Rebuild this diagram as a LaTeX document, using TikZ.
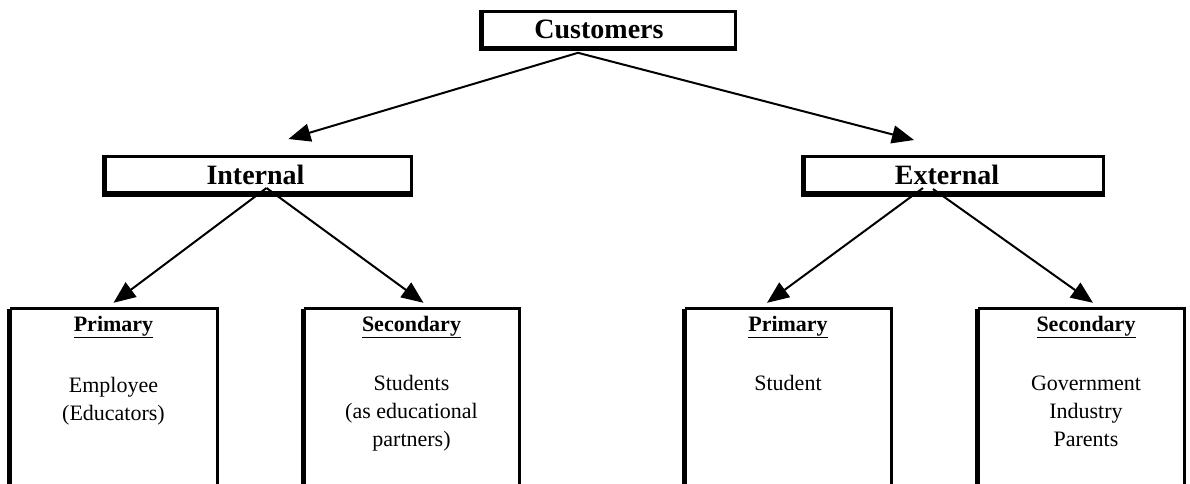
\documentclass[tikz,border=0pt]{standalone}
\usepackage{fontspec}
\setmainfont{Liberation Serif}
\usetikzlibrary{arrows.meta}
\newcommand{\boxlines}[1]{\begin{tabular}[t]{@{}c@{}}#1\end{tabular}}
\newcommand{\padright}[1]{\hbox to #1{}}
\begin{document}
\begin{tikzpicture}[x=1pt,y=-1pt,
  topbox/.style={draw,line width=3pt,inner sep=0pt,minimum height=36pt,
    font=\fontsize{28}{34}\selectfont\bfseries},
  openbox/.style={draw=none,inner sep=0pt,minimum height=200pt},
  shadowline/.style={line width=5pt},
  edgeline/.style={line width=3pt},
  head/.style={inner sep=0pt,anchor=base,font=\fontsize{22}{28}\selectfont\bfseries},
  body/.style={inner sep=0pt,anchor=base,font=\fontsize{22}{28}\selectfont},
  arr/.style={line width=2pt,-{Triangle[length=22pt,width=18pt]}}]
\useasboundingbox (0,0) rectangle (1190,483);

% top level
\node[topbox,minimum width=253pt] (cust) at (609,29.3) {Customers\padright{20pt}};
\draw[shadowline] (cust.north west) -- (cust.south west) -- (cust.south east);

% second level
\node[topbox,minimum width=306pt] (int) at (258.5,174.5) {Internal\padright{6pt}};
\draw[shadowline] (int.north west) -- (int.south west) -- (int.south east);
\node[topbox,minimum width=299pt] (ext) at (954,174.5) {External\padright{14pt}};
\draw[shadowline] (ext.north west) -- (ext.south west) -- (ext.south east);

% bottom level (open boxes)
\node[openbox,minimum width=207pt] (p1) at (113.5,409) {};
\node[openbox,minimum width=215pt] (p2) at (411.5,409) {};
\node[openbox,minimum width=206pt] (p3) at (788,409) {};
\node[openbox,minimum width=206pt] (p4) at (1081,409) {};
\foreach \b in {p1,p2,p3,p4}{
  \draw[edgeline] (\b.north west) -- (\b.north east) -- (\b.south east);
  \draw[shadowline] (\b.south west) -- (\b.north west);
}

% texts in bottom boxes
\node[head] (p1h) at (113.5,331) {\underline{Primary}};
\node[body] (p1t) at (113.5,392) {\boxlines{Employee\\(Educators)}};
\node[head] (p2h) at (411.5,331) {\underline{Secondary}};
\node[body] (p2t) at (411.5,390) {\boxlines{Students\\(as educational\\partners)}};
\node[head] (p3h) at (788,331) {\underline{Primary}};
\node[body] (p3t) at (788,390) {\boxlines{Student}};
\node[head] (p4h) at (1086,331) {\underline{Secondary}};
\node[body] (p4t) at (1086,390) {\boxlines{Government\\Industry\\Parents}};

% connectors
\coordinate (custapex) at ([xshift=-31pt,yshift=-4pt]cust.south);
\draw[arr] (custapex) -- ([xshift=30pt,yshift=16pt]int.north);
\draw[arr] (custapex) -- ([xshift=-40pt,yshift=15pt]ext.north);
\draw[arr] ([xshift=8pt,yshift=6pt]int.south) -- ([yshift=6pt]p1.north);
\draw[arr] ([xshift=8pt,yshift=6pt]int.south) -- ([xshift=12pt,yshift=6pt]p2.north);
\draw[arr] ([xshift=-31pt,yshift=6pt]ext.south) -- ([xshift=-21pt,yshift=6pt]p3.north);
\draw[arr] ([xshift=-21pt,yshift=5pt]ext.south) -- ([xshift=12pt,yshift=6pt]p4.north);
\end{tikzpicture}
\end{document}
